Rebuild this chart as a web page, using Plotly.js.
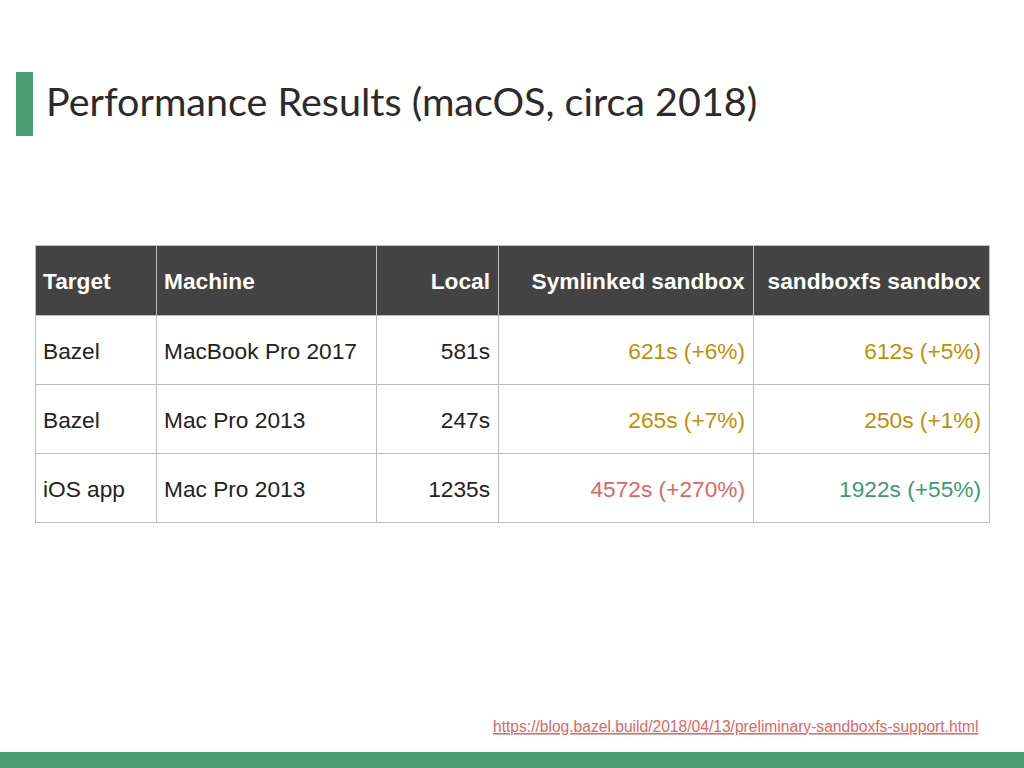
<!DOCTYPE html>
<html>
<head>
<meta charset="utf-8">
<script src="https://cdn.plot.ly/plotly-3.0.1.min.js"></script>
<style>html,body{margin:0;padding:0;background:#fff;}#chart{width:1024px;height:768px;}</style>
</head>
<body>
<div id="chart"></div>
<script>
// ---- data ----
const headers = ['Target', 'Machine', 'Local', 'Symlinked sandbox', 'sandboxfs sandbox'];
const targets = ['Bazel', 'Bazel', 'iOS app'];
const machines = ['MacBook Pro 2017', 'Mac Pro 2013', 'Mac Pro 2013'];
const localSec = [581, 247, 1235];
const symlinkedSec = [621, 265, 4572];
const symlinkedPct = [6, 7, 270];
const sandboxfsSec = [612, 250, 1922];
const sandboxfsPct = [5, 1, 55];
const sourceUrl = 'https://blog.bazel.build/2018/04/13/preliminary-sandboxfs-support.html';

// ---- style ----
const W = 1024, H = 768;
const GREEN = '#4a9e72';
const YELLOW = '#bf9000';
const RED = '#e06666';
const GOOD = '#3f9a6e';
const symColors = [YELLOW, YELLOW, RED];
const sfsColors = [YELLOW, YELLOW, GOOD];
const TXT = 22.7;
const BASE = 16.3; // font of a blank first line, pushes text down to vertical centre

const wrap = s => '\u00a0<br><span style="font-size:' + TXT + 'px">' + s + '</span>';
const fmt = (sec, pct) => sec + 's (+' + pct + '%)';

const cellValues = [
  targets.map(wrap),
  machines.map(wrap),
  localSec.map(v => wrap(v + 's')),
  symlinkedSec.map((v, i) => wrap(fmt(v, symlinkedPct[i]))),
  sandboxfsSec.map((v, i) => wrap(fmt(v, sandboxfsPct[i])))
];

const trace = {
  type: 'table',
  domain: {x: [35 / W, 989 / W], y: [1 - 526 / H, 1 - 245 / H]},
  columnwidth: [121, 220, 122, 255, 236],
  header: {
    values: headers.map(h => wrap('<b>' + h + '</b>')),
    align: ['left', 'left', 'right', 'right', 'right'],
    fill: {color: '#434343'},
    line: {color: '#bdbdbd', width: 1},
    font: {family: 'Liberation Sans, Arial, sans-serif', size: BASE, color: '#ffffff'},
    height: 70
  },
  cells: {
    values: cellValues,
    align: ['left', 'left', 'right', 'right', 'right'],
    fill: {color: '#ffffff'},
    line: {color: '#bdbdbd', width: 1},
    font: {
      family: 'Liberation Sans, Arial, sans-serif',
      size: BASE,
      color: [targets.map(() => '#222'), machines.map(() => '#222'), localSec.map(() => '#222'), symColors, sfsColors]
    },
    height: 69
  }
};

const layout = {
  width: W, height: H,
  margin: {l: 0, r: 0, t: 0, b: 0},
  paper_bgcolor: '#ffffff',
  title: {
    text: 'Performance Results (macOS, circa 2018)',
    x: 46 / W, xanchor: 'left',
    y: 1 - 102 / H, yanchor: 'middle',
    font: {family: 'Lato, Open Sans, sans-serif', size: 39.5, color: '#2b2b2b'}
  },
  shapes: [
    {type: 'rect', xref: 'paper', yref: 'paper', x0: 16 / W, x1: 33 / W, y0: 1 - 136 / H, y1: 1 - 72 / H, fillcolor: GREEN, line: {width: 0}},
    {type: 'rect', xref: 'paper', yref: 'paper', x0: 0, x1: 1, y0: 0, y1: 16 / H, fillcolor: GREEN, line: {width: 0}}
  ],
  annotations: [{
    text: '<span style="text-decoration:underline">' + sourceUrl + '</span>',
    xref: 'paper', yref: 'paper', x: 980 / W, y: 1 - 726 / H,
    xanchor: 'right', yanchor: 'middle', showarrow: false,
    font: {family: 'Liberation Sans, Arial, sans-serif', size: 15.6, color: '#e06666'}
  }]
};

Plotly.newPlot('chart', [trace], layout, {displayModeBar: false, staticPlot: true});
</script>
</body>
</html>
